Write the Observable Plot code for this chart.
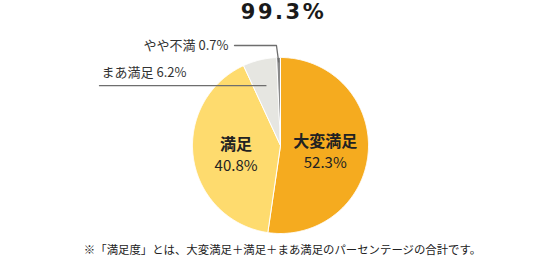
<!DOCTYPE html>
<html><head><meta charset="utf-8">
<script src="https://cdn.jsdelivr.net/npm/d3@7"></script>
<script src="https://cdn.jsdelivr.net/npm/@observablehq/plot@0.6"></script>
<style>body{margin:0;background:#fff}</style>
</head><body><div id="chart"></div>
<script>
// ---- data ----
const categories = ["大変満足", "満足", "まあ満足", "やや不満"];
const values = [52.3, 40.8, 6.2, 0.7];
const colors = ["#F5AB1F", "#FEDB6E", "#E6E6E1", "#8A8A8A"];
const insideLabels = ["大変満足", "満足"];
const outsideLabels = ["まあ満足", "やや不満"];
const totalLabel = "99.3%";
const note = "※「満足度」とは、大変満足＋満足＋まあ満足のパーセンテージの合計です。";

// ---- layout ----
const W = 556, H = 260, CX = 280, CY = 145, R = 88;
const data = categories.map((c, i) => ({category: c, value: values[i]}));
const arcs = d3.pie().sort(null).value(d => d.value)(data);

// slice polygons in unit-circle coordinates (angle measured clockwise from top)
const poly = [];
for (const a of arcs) {
  const c = a.data.category;
  const n = Math.max(2, Math.ceil((a.endAngle - a.startAngle) / 0.01));
  poly.push({category: c, x: 0, y: 0});
  for (let k = 0; k <= n; k++) {
    const t = a.startAngle + (a.endAngle - a.startAngle) * k / n;
    poly.push({category: c, x: Math.sin(t), y: Math.cos(t)});
  }
  poly.push({category: c, x: 0, y: 0});
}
const mid = a => (a.startAngle + a.endAngle) / 2;
const at = (a, r) => ({x: r * Math.sin(mid(a)), y: r * Math.cos(mid(a))});

const inside = arcs.filter(a => insideLabels.includes(a.data.category)).map(a => ({
  name: a.data.category, value: a.data.value.toFixed(1) + "%", ...at(a, 0.51)
}));

const arcOf = c => arcs.find(a => a.data.category === c);
// まあ満足 leader: horizontal line to the left
const mA = arcOf(outsideLabels[0]);
const mEnd = at(mA, 0.7);
const mStartX = (99 - CX) / R;
const mLine = [{x: mStartX, y: mEnd.y}, {x: mEnd.x, y: mEnd.y}];
const mText = [{x: (101 - CX) / R, y: mEnd.y + 13 / R, t: `${mA.data.category} ${mA.data.value.toFixed(1)}%`}];
// やや不満 leader: elbow line
const yA = arcOf(outsideLabels[1]);
const yEnd = at(yA, 0.95);
const yElbowY = (CY - 45) / R;
const yLine = [{x: (234 - CX) / R, y: yElbowY}, {x: yEnd.x - 0.025, y: yElbowY}, {x: yEnd.x, y: yEnd.y}];
const yText = [{x: (228 - CX) / R, y: yElbowY, t: `${yA.data.category} ${yA.data.value.toFixed(1)}%`}];

const chart = Plot.plot({
  width: W, height: H, margin: 0,
  x: {domain: [-1, 1], range: [CX - R, CX + R], axis: null},
  y: {domain: [-1, 1], range: [CY + R, CY - R], axis: null},
  color: {domain: categories, range: colors},
  style: {fontFamily: "'Noto Sans CJK JP', 'Noto Sans', sans-serif", color: "#222", background: "#fff"},
  marks: [
    Plot.line(poly, {x: "x", y: "y", z: "category", fill: "category", stroke: "#fff", strokeWidth: 1, curve: "linear"}),
    Plot.line(mLine, {x: "x", y: "y", stroke: "#6e6e6e", strokeWidth: 1.3}),
    Plot.line(yLine, {x: "x", y: "y", stroke: "#6e6e6e", strokeWidth: 1.3}),
    Plot.text(mText, {x: "x", y: "y", text: "t", textAnchor: "start", fontSize: 13, fill: "#333"}),
    Plot.text(yText, {x: "x", y: "y", text: "t", textAnchor: "end", fontSize: 13, fill: "#333"}),
    Plot.text(inside, {x: "x", y: "y", text: "name", dy: -7, fontSize: 16, fontWeight: "bold", fill: "#222"}),
    Plot.text(inside, {x: "x", y: "y", text: "value", dy: 14, fontSize: 15, fill: "#222"}),
    Plot.text([totalLabel], {frameAnchor: "top", text: d => d, dx: 5, dy: 12, lineAnchor: "middle",
      fontSize: 21, fontWeight: "bold", fill: "#1a1a1a", fontFamily: "'DejaVu Sans', sans-serif"}),
    Plot.text([note], {frameAnchor: "bottom", text: d => d, dx: 4, dy: -10, lineAnchor: "middle", fontSize: 11.4, fill: "#222"})
  ]
});
chart.querySelectorAll("text").forEach(t => { if (t.textContent === totalLabel) t.setAttribute("letter-spacing", "2.5"); });
document.getElementById("chart").appendChild(chart);
</script>
</body></html>
